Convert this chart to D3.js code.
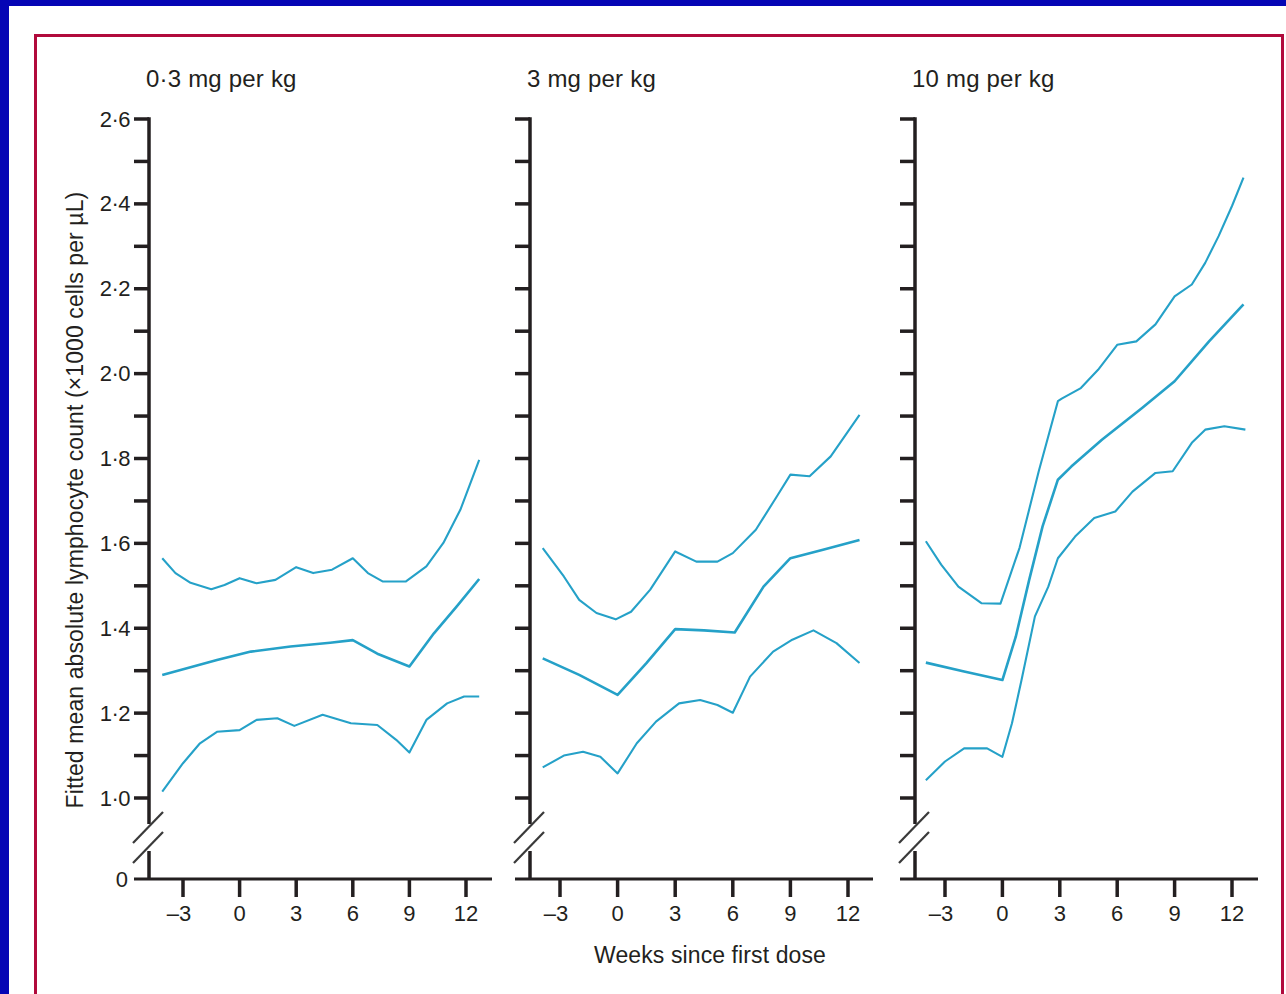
<!DOCTYPE html>
<html>
<head>
<meta charset="utf-8">
<script src="https://cdn.jsdelivr.net/npm/d3@7/dist/d3.min.js"></script>
<style>
  html, body { margin: 0; padding: 0; background: #ffffff; }
  svg { display: block; }
  text { font-family: "Liberation Sans", Arial, sans-serif; fill: #231f20; }
</style>
</head>
<body>
<svg id="chart" width="1286" height="994"></svg>
<script>
// Dose groups (panel titles)
const doses = ["0·3 mg per kg", "3 mg per kg", "10 mg per kg"];

// Axis ticks
const xTicks = [-3, 0, 3, 6, 9, 12];
const yMinorTicks = [1.0, 1.1, 1.2, 1.3, 1.4, 1.5, 1.6, 1.7, 1.8, 1.9, 2.0, 2.1, 2.2, 2.3, 2.4, 2.5, 2.6];
const yLabelTicks = [1.0, 1.2, 1.4, 1.6, 1.8, 2.0, 2.2, 2.4, 2.6];

// Fitted mean and confidence band, [week, count ×1000 per µL]
const upper03 = [[-4.1,1.565],[-3.4,1.53],[-2.6,1.507],[-1.5,1.492],[-0.8,1.502],[0,1.518],[0.9,1.506],[1.9,1.514],[3,1.544],[3.9,1.53],[4.9,1.538],[6,1.565],[6.8,1.53],[7.6,1.51],[8.8,1.51],[9.9,1.546],[10.8,1.601],[11.7,1.679],[12.7,1.797]];
const mean03  = [[-4.1,1.29],[-1.2,1.325],[0.6,1.345],[2.7,1.357],[4.8,1.366],[6,1.372],[7.3,1.34],[9,1.31],[10.3,1.388],[11.5,1.451],[12.7,1.516]];
const lower03 = [[-4.1,1.015],[-3,1.082],[-2.1,1.129],[-1.2,1.156],[0,1.16],[0.9,1.184],[2,1.188],[2.9,1.17],[4.4,1.196],[5.9,1.176],[7.3,1.172],[8.3,1.137],[9,1.107],[9.9,1.184],[11,1.223],[11.9,1.239],[12.7,1.239]];

const upper3 = [[-3.9,1.589],[-2.8,1.522],[-2,1.467],[-1.1,1.436],[-0.1,1.421],[0.7,1.439],[1.7,1.491],[3,1.581],[4.1,1.557],[5.2,1.557],[6,1.577],[7.2,1.632],[8.3,1.711],[9,1.762],[10,1.758],[11.1,1.805],[12.6,1.903]];
const mean3  = [[-3.9,1.329],[-2,1.29],[0,1.243],[1.5,1.318],[3,1.398],[4.5,1.395],[6.1,1.39],[7.6,1.498],[9,1.565],[10.7,1.585],[12.6,1.608]];
const lower3 = [[-3.9,1.072],[-2.8,1.1],[-1.8,1.109],[-0.9,1.097],[0,1.058],[1,1.129],[2,1.18],[3.2,1.223],[4.3,1.231],[5.2,1.219],[6,1.201],[6.9,1.286],[8.1,1.345],[9.1,1.373],[10.2,1.395],[11.4,1.365],[12.6,1.318]];

const upper10 = [[-4,1.605],[-3.2,1.55],[-2.3,1.498],[-1.1,1.459],[-0.1,1.458],[0.9,1.59],[1.9,1.77],[2.9,1.935],[3.1,1.941],[4.1,1.966],[5,2.009],[6,2.068],[7,2.076],[8,2.116],[9,2.182],[9.9,2.21],[10.6,2.261],[11.3,2.324],[12,2.395],[12.6,2.462]];
const mean10  = [[-4,1.319],[-2,1.298],[0,1.278],[0.7,1.38],[1.4,1.514],[2.1,1.64],[2.9,1.75],[3.6,1.781],[5.2,1.844],[7.3,1.919],[9,1.982],[10.8,2.076],[12.6,2.163]];
const lower10 = [[-4,1.042],[-3,1.086],[-2,1.117],[-0.8,1.117],[0,1.097],[0.5,1.176],[1,1.278],[1.7,1.428],[2.4,1.498],[2.9,1.565],[3.8,1.616],[4.8,1.66],[5.9,1.675],[6.8,1.722],[8,1.766],[8.9,1.77],[9.9,1.837],[10.6,1.868],[11.6,1.876],[12.7,1.868]];

const panelSeries = [
  [upper03, mean03, lower03],
  [upper3, mean3, lower3],
  [upper10, mean10, lower10]
];

// Layout
const ink = "#231f20";
const lineColor = "#25a1c8";
const axisX = [149, 530, 915];         // y-axis position of each panel
const xRanges = [[183, 466], [560, 848], [945, 1232]];
const axisRight = 343;                 // x-axis length right of y-axis
const yBase = 879;                     // x-axis / zero line
const fmt = v => d3.format(".1f")(v).replace(".", "·");

const svg = d3.select("#chart");

// Outer page frame
svg.append("rect").attr("x", 0).attr("y", 0).attr("width", 1286).attr("height", 6).attr("fill", "#0505b5");
svg.append("rect").attr("x", 0).attr("y", 0).attr("width", 9).attr("height", 994).attr("fill", "#0505b5");
svg.append("rect").attr("x", 35.5).attr("y", 35.5).attr("width", 1247).attr("height", 1000)
  .attr("fill", "none").attr("stroke", "#b10a3c").attr("stroke-width", 3);

const y = d3.scaleLinear().domain([1.0, 2.6]).range([798, 119]);

doses.forEach((dose, i) => {
  const ax = axisX[i];
  const x = d3.scaleLinear().domain([-3, 12]).range(xRanges[i]);
  const g = svg.append("g");

  // Title
  g.append("text").attr("x", ax - 3).attr("y", 87)
    .attr("font-size", 24).attr("letter-spacing", 0.2).text(dose);

  // Y axis line with break
  g.append("line").attr("x1", ax).attr("x2", ax).attr("y1", y(2.6) - 1.7).attr("y2", 824)
    .attr("stroke", ink).attr("stroke-width", 3.5);
  g.append("line").attr("x1", ax).attr("x2", ax).attr("y1", 851).attr("y2", yBase)
    .attr("stroke", ink).attr("stroke-width", 3.5);
  [843, 863].forEach(by => {
    g.append("line").attr("x1", ax - 16).attr("y1", by).attr("x2", ax + 14).attr("y2", by - 31)
      .attr("stroke", "#3a3a3a").attr("stroke-width", 2.2);
  });

  // Y ticks
  g.selectAll(".yt").data(yMinorTicks).join("line")
    .attr("x1", ax - 15).attr("x2", ax).attr("y1", d => y(d)).attr("y2", d => y(d))
    .attr("stroke", ink).attr("stroke-width", 3.5);

  // X axis line (extends left as the zero tick)
  g.append("line").attr("x1", ax - 15).attr("x2", ax + axisRight).attr("y1", yBase).attr("y2", yBase)
    .attr("stroke", ink).attr("stroke-width", 3.2);
  g.selectAll(".xt").data(xTicks).join("line")
    .attr("x1", d => x(d)).attr("x2", d => x(d)).attr("y1", yBase).attr("y2", yBase + 18)
    .attr("stroke", ink).attr("stroke-width", 3.5);
  g.selectAll(".xl").data(xTicks).join("text")
    .attr("x", d => x(d) + (d < 0 ? -4 : 0)).attr("y", 921)
    .attr("text-anchor", "middle").attr("font-size", 22)
    .text(d => d < 0 ? "–" + Math.abs(d) : d);

  // Curves
  const line = d3.line().x(d => x(d[0])).y(d => y(d[1]));
  panelSeries[i].forEach((s, k) => {
    g.append("path").datum(s).attr("d", line)
      .attr("fill", "none").attr("stroke", lineColor)
      .attr("stroke-width", k === 1 ? 2.6 : 2.1)
      .attr("stroke-linejoin", "round");
  });

  // Y tick labels on the first panel only
  if (i === 0) {
    g.selectAll(".yl").data(yLabelTicks).join("text")
      .attr("x", 130).attr("y", d => y(d) + 7.5)
      .attr("text-anchor", "end").attr("font-size", 22).attr("letter-spacing", -0.5)
      .text(fmt);
    g.append("text").attr("x", 128).attr("y", yBase + 7.5)
      .attr("text-anchor", "end").attr("font-size", 22).text("0");
    g.append("text")
      .attr("transform", "translate(83,500) rotate(-90)")
      .attr("text-anchor", "middle").attr("font-size", 23).attr("letter-spacing", 0.1)
      .text("Fitted mean absolute lymphocyte count (×1000 cells per µL)");
  }
});

// Shared x-axis title
svg.append("text").attr("x", 710).attr("y", 963).attr("text-anchor", "middle")
  .attr("font-size", 23).attr("letter-spacing", 0.1).text("Weeks since first dose");
</script>
</body>
</html>
